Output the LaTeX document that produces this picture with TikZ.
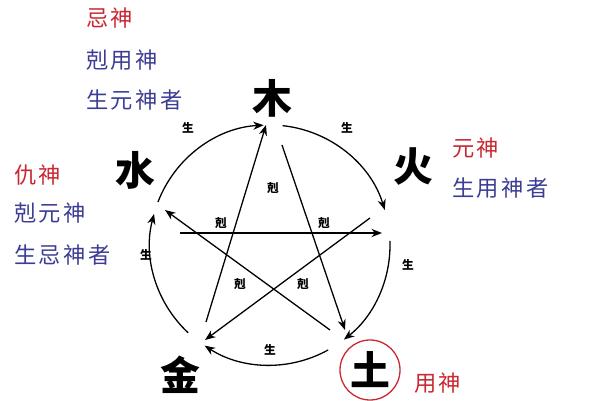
\documentclass[tikz,border=0pt]{standalone}
\usepackage{fontspec}
\setmainfont{Noto Sans CJK SC}
\newfontfamily\spacedcjk[LetterSpace=12]{Noto Sans CJK SC}
\usetikzlibrary{calc,arrows.meta}
\definecolor{shenred}{RGB}{200,40,50}
\definecolor{shenblue}{RGB}{60,60,150}
\begin{document}
\begin{tikzpicture}[x=0.03cm,y=0.03cm,inner sep=0pt,outer sep=0pt,line width=1.1pt,>={Stealth[length=9pt,width=7pt]},
elem/.style={font=\bfseries\fontsize{34}{34}\selectfont},
rel/.style={font=\bfseries\fontsize{10}{10}\selectfont},
redtxt/.style={font=\spacedcjk\fontsize{19}{19}\selectfont,text=shenred,anchor=west},
bluetxt/.style={font=\spacedcjk\fontsize{19}{19}\selectfont,text=shenblue,anchor=west}]
\useasboundingbox (0,0) rectangle (600,400);
\coordinate (c) at (270,155);
% elements
\node[elem] (mu) at (272,302) {木};
\node[elem] (huo) at (413,233) {火};
\node[elem] (tu) at (370,30) {土};
\node[elem] (jin) at (180,25) {金};
\node[elem] (shui) at (135,230) {水};
\draw[shenred] (tu) circle[radius=0.9cm];
% generating cycle
\draw[->] ($(c)+(159:120)$) arc[start angle=159,end angle=93,radius=3.6cm];
\draw[->] ($(c)+(84:120)$) arc[start angle=84,end angle=17,radius=3.6cm];
\draw[->] ($(c)+(2:120)$) arc[start angle=2,end angle=-52,radius=3.6cm];
\draw[->] ($(c)+(-61:120)$) arc[start angle=-61,end angle=-123,radius=3.6cm];
\draw[->] ($(c)+(-133:120)$) arc[start angle=-133,end angle=-195,radius=3.6cm];
% controlling star
\coordinate (muA) at (282,255);
\coordinate (muB) at (266,275);
\coordinate (tuA) at (345,70);
\coordinate (tuB) at (330,70);
\coordinate (shuiA) at (165,190);
\coordinate (shuiB) at (180,167);
\coordinate (huoA) at (382,167);
\coordinate (huoB) at (370,182);
\coordinate (jinA) at (205,60);
\coordinate (jinB) at (206,78);
\draw[->] (muA) -- (tuA);
\draw[->] (tuB) -- (shuiA);
\draw[->] (shuiB) -- (huoA);
\draw[->] (huoB) -- (jinA);
\draw[->] (jinB) -- (muB);
% labels
\node[rel] (s1) at (188,272) {生};
\node[rel] (s2) at (347,272) {生};
\node[rel] (s3) at (408,135) {生};
\node[rel] (s4) at (270,50) {生};
\node[rel] (s5) at (146,145) {生};
\node[rel] (k1) at (273,212) {剋};
\node[rel] (k2) at (221,177) {剋};
\node[rel] (k3) at (324,177) {剋};
\node[rel] (k4) at (240,116) {剋};
\node[rel] (k5) at (303,116) {剋};
% notes
\node[redtxt] (ji) at (86,382) {忌神};
\node[bluetxt] (ji2) at (86,340) {剋用神};
\node[bluetxt] (ji3) at (86,300) {生元神者};
\node[redtxt] (chou) at (14,225) {仇神};
\node[bluetxt] (chou2) at (14,187) {剋元神};
\node[bluetxt] (chou3) at (14,145) {生忌神者};
\node[redtxt] (yuan) at (452,252) {元神};
\node[bluetxt] (yuan2) at (452,212) {生用神者};
\node[redtxt] (yong) at (414,17) {用神};
\end{tikzpicture}
\end{document}
